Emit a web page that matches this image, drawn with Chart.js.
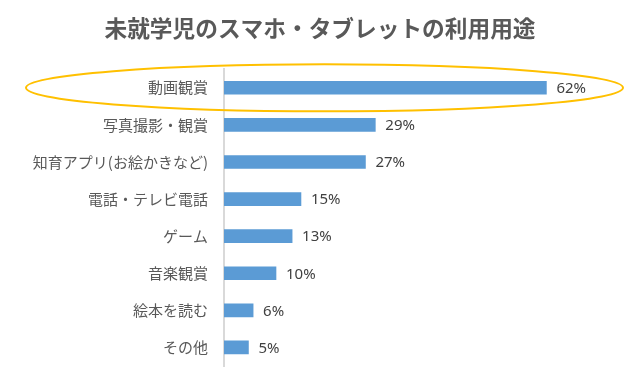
<!DOCTYPE html>
<html>
<head>
<meta charset="utf-8">
<script src="https://cdn.jsdelivr.net/npm/chart.js@4"></script>
<style>
    html, body { margin: 0; padding: 0; background: #fff; }
    #wrap { width: 640px; height: 384px; }
</style>
</head>
<body>
<div id="wrap"><canvas id="usageChart"></canvas></div>
<script>
const titleText = '未就学児のスマホ・タブレットの利用用途';
const categories = ['動画観賞', '写真撮影・観賞', '知育アプリ(お絵かきなど)', '電話・テレビ電話', 'ゲーム', '音楽観賞', '絵本を読む', 'その他'];
const usageRates = [62.0, 29.1, 27.2, 14.8, 13.1, 10.0, 5.6, 4.7];

const jpFont = '"Noto Sans CJK JP", "Noto Sans", sans-serif';

// value labels at the end of each bar
const barValueLabels = {
    id: 'barValueLabels',
    afterDatasetsDraw(chart) {
        const ctx = chart.ctx;
        const meta = chart.getDatasetMeta(0);
        ctx.save();
        ctx.font = '15px "Noto Sans", sans-serif';
        ctx.fillStyle = '#404040';
        ctx.textBaseline = 'middle';
        meta.data.forEach((bar, i) => {
            ctx.fillText(Math.round(usageRates[i]) + '%', bar.x + 10, bar.y + 1);
        });
        ctx.restore();
    }
};

// orange ellipse around the top row
const highlightRing = {
    id: 'highlightRing',
    afterDraw(chart) {
        const ctx = chart.ctx;
        const y = chart.scales.y.getPixelForValue(0);
        const left = 26, right = 623;
        ctx.save();
        ctx.strokeStyle = '#FFC000';
        ctx.lineWidth = 2;
        ctx.beginPath();
        ctx.ellipse((left + right) / 2, y, (right - left) / 2, 23.5, 0, 0, Math.PI * 2);
        ctx.stroke();
        ctx.restore();
    }
};

new Chart(document.getElementById('usageChart').getContext('2d'), {
    type: 'bar',
    data: {
        labels: categories,
        datasets: [{ data: usageRates, backgroundColor: '#5B9BD5', barThickness: 13 }]
    },
    options: {
        indexAxis: 'y', responsive: true, maintainAspectRatio: false, animation: false,
        layout: { padding: { left: 0, right: 0, top: 0, bottom: 18 } },
        plugins: {
            legend: { display: false }, tooltip: { enabled: false },
            title: { display: true, text: titleText, color: '#595959', font: { family: jpFont, size: 22.7, weight: 'bold' }, padding: { top: 15, bottom: 27 } }
        },
        scales: {
            x: { display: false, min: 0, max: 80 },
            y: {
                grid: { display: false, drawTicks: false },
                border: { display: true, color: '#d9d9d9', width: 2 },
                ticks: { color: '#595959', padding: 16, font: { family: jpFont, size: 15 } },
                afterFit: s => { s.width = 224; s.paddingTop = 0; s.paddingBottom = 0; }
            }
        }
    },
    plugins: [barValueLabels, highlightRing]
});
</script>
</body>
</html>
